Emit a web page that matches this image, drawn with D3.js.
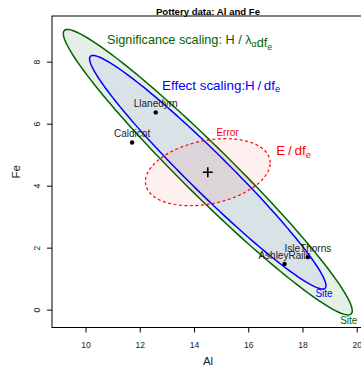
<!DOCTYPE html>
<html>
<head>
<meta charset="utf-8">
<script src="https://cdn.jsdelivr.net/npm/d3@7/dist/d3.min.js"></script>
<style>
  html, body { margin: 0; padding: 0; background: #fff; }
</style>
</head>
<body>
<svg id="chart" width="361" height="367"></svg>
<script>
// ─── Data ────────────────────────────────────────────────────────────────────
const siteNames = ['Llanedyrn', 'Caldicot', 'IsleThorns', 'AshleyRails'];
const siteAl    = [12.57, 11.70, 18.18, 17.32];
const siteFe    = [6.38, 5.41, 1.71, 1.49];
const grandMean = [14.49, 4.45];               // [Al, Fe]

const hEffect    = [[19.0, -15.95], [-15.95, 14.2]];  // H/df_e, effect scaling
const hSigRadius = 1.222;                             // significance ellipse radius vs effect
const eMatrix    = [[5.29, 0.70], [0.70, 1.17]];      // E/df_e

const xTicks = [10, 12, 14, 16, 18, 20];
const yTicks = [0, 2, 4, 6, 8];
const xLim = [8.746, 20.25];
const yLim = [-0.56, 9.49];

// ─── Palette ─────────────────────────────────────────────────────────────────
const C = {
  green:   '#006400',
  blue:    '#0000ff',
  red:     '#ff0000',
  label:   '#222222',
  axis:    '#000000',
  font:    '"Liberation Sans", Arial, Helvetica, sans-serif',
};

const svg = d3.select('#chart');
const box = { left: 52, right: 364, top: 16, bottom: 327.5 };

const x = d3.scaleLinear().domain(xLim).range([box.left, box.right]);
const y = d3.scaleLinear().domain(yLim).range([box.bottom, box.top]);

// ellipse outline from a 2x2 matrix via cholesky
function ellipsePts(M, radius, n = 180) {
  const l11 = Math.sqrt(M[0][0]);
  const l21 = M[1][0] / l11;
  const l22 = Math.sqrt(M[1][1] - l21 * l21);
  return d3.range(n).map((i) => {
    const t = (i / n) * 2 * Math.PI;
    const u = Math.cos(t), v = Math.sin(t);
    return [grandMean[0] + radius * l11 * u, grandMean[1] + radius * (l21 * u + l22 * v)];
  });
}
const line = d3.line().x((d) => x(d[0])).y((d) => y(d[1])).curve(d3.curveLinearClosed);

// extreme points (pixel) of an ellipse
function extremes(M, radius) {
  const pts = ellipsePts(M, radius, 720).map((d) => [x(d[0]), y(d[1])]);
  return {
    right: pts.reduce((a, b) => (b[0] > a[0] ? b : a)),
    top:   pts.reduce((a, b) => (b[1] < a[1] ? b : a)),
  };
}

const plot = svg.append('g');
plot.append('defs').append('clipPath').attr('id', 'clip')
  .append('rect').attr('x', box.left).attr('y', box.top)
  .attr('width', box.right - box.left).attr('height', box.bottom - box.top);
const inner = plot.append('g').attr('clip-path', 'url(#clip)');

// ─── Ellipses ────────────────────────────────────────────────────────────────
inner.append('path').attr('d', line(ellipsePts(hEffect, hSigRadius)))
  .attr('fill', C.green).attr('fill-opacity', 0.1)
  .attr('stroke', C.green).attr('stroke-width', 1.5);
inner.append('path').attr('d', line(ellipsePts(hEffect, 1)))
  .attr('fill', C.blue).attr('fill-opacity', 0.05)
  .attr('stroke', C.blue).attr('stroke-width', 1.5);
inner.append('path').attr('d', line(ellipsePts(eMatrix, 1)))
  .attr('fill', C.red).attr('fill-opacity', 0.06)
  .attr('stroke', C.red).attr('stroke-width', 1.2).attr('stroke-dasharray', '3,2.5');

// ─── Means ───────────────────────────────────────────────────────────────────
siteNames.forEach((name, i) => {
  const px = x(siteAl[i]), py = y(siteFe[i]);
  inner.append('circle').attr('cx', px).attr('cy', py).attr('r', 2.2).attr('fill', '#000');
  inner.append('text').attr('x', px).attr('y', py - 5)
    .attr('text-anchor', 'middle').attr('font-size', 10)
    .attr('font-family', C.font).attr('fill', C.label).text(name);
});

// grand mean cross
const gx = x(grandMean[0]), gy = y(grandMean[1]);
inner.append('path').attr('d', `M${gx - 5},${gy}H${gx + 5}M${gx},${gy - 5}V${gy + 5}`)
  .attr('stroke', '#000').attr('stroke-width', 1.6);

// ─── Ellipse labels ──────────────────────────────────────────────────────────
const blueEx = extremes(hEffect, 1);
const greenEx = extremes(hEffect, hSigRadius);
const redEx = extremes(eMatrix, 1);

inner.append('text').attr('x', blueEx.right[0] - 2).attr('y', blueEx.right[1] + 11)
  .attr('text-anchor', 'middle').attr('font-size', 10).attr('font-family', C.font)
  .attr('fill', C.blue).text('Site');
inner.append('text').attr('x', greenEx.right[0] - 3.5).attr('y', greenEx.right[1] + 13.5)
  .attr('text-anchor', 'middle').attr('font-size', 10).attr('font-family', C.font)
  .attr('fill', C.green).text('Site');
inner.append('text').attr('x', redEx.top[0] + 2).attr('y', redEx.top[1] - 2.5)
  .attr('text-anchor', 'middle').attr('font-size', 10).attr('font-family', C.font)
  .attr('fill', C.red).text('Error');

// scaling annotations with subscripts
function subText(g, parts, size) {
  parts.forEach(([s, sub]) => {
    if (sub) {
      g.append('tspan').attr('font-size', size * 0.7).attr('dy', size * 0.22).text(s);
      g.append('tspan').attr('font-size', size).attr('dy', -size * 0.22).text('');
    } else {
      g.append('tspan').attr('font-size', size).text(s);
    }
  });
}
const sig = svg.append('text').attr('x', 107).attr('y', 44)
  .attr('font-family', C.font).attr('fill', C.green);
subText(sig, [['Significance scaling: H / \u03BB'], ['\u03B1', true], ['df'], ['e', true]], 12.7);

const eff = svg.append('text').attr('x', 162).attr('y', 89.5)
  .attr('font-family', C.font).attr('fill', C.blue);
subText(eff, [['Effect scaling:H\u2009/\u2009df'], ['e', true]], 13.4);

const err = svg.append('text').attr('x', redEx.right[0] + 6).attr('y', redEx.right[1] - 8)
  .attr('font-family', C.font).attr('fill', C.red);
subText(err, [['E\u2009/\u2009df'], ['e', true]], 13.6);

// ─── Axes ────────────────────────────────────────────────────────────────────
svg.append('rect').attr('x', box.left).attr('y', box.top)
  .attr('width', box.right - box.left).attr('height', box.bottom - box.top)
  .attr('fill', 'none').attr('stroke', C.axis).attr('stroke-width', 1);

xTicks.forEach((v) => {
  svg.append('line').attr('x1', x(v)).attr('x2', x(v))
    .attr('y1', box.bottom).attr('y2', box.bottom + 5)
    .attr('stroke', C.axis);
  svg.append('text').attr('x', x(v)).attr('y', 347.5)
    .attr('text-anchor', 'middle').attr('font-size', 8.6)
    .attr('font-family', C.font).attr('fill', '#222').text(v);
});
yTicks.forEach((v) => {
  svg.append('line').attr('x1', box.left - 5).attr('x2', box.left)
    .attr('y1', y(v)).attr('y2', y(v))
    .attr('stroke', C.axis);
  svg.append('text')
    .attr('transform', `translate(40,${y(v)}) rotate(-90)`)
    .attr('text-anchor', 'middle').attr('font-size', 8.6)
    .attr('font-family', C.font).attr('fill', '#222').text(v);
});

// axis titles and main title
svg.append('text').attr('x', (box.left + box.right) / 2).attr('y', 365)
  .attr('text-anchor', 'middle').attr('font-size', 11.5)
  .attr('font-family', C.font).attr('fill', '#222').text('Al');
svg.append('text').attr('transform', `translate(20,${(box.top + box.bottom) / 2}) rotate(-90)`)
  .attr('text-anchor', 'middle').attr('font-size', 11.5)
  .attr('font-family', C.font).attr('fill', '#222').text('Fe');
svg.append('text').attr('x', (box.left + box.right) / 2).attr('y', 14.5)
  .attr('text-anchor', 'middle').attr('font-size', 9.6).attr('font-weight', 'bold')
  .attr('font-family', C.font).attr('fill', '#000').text('Pottery data: Al and Fe');
</script>
</body>
</html>
